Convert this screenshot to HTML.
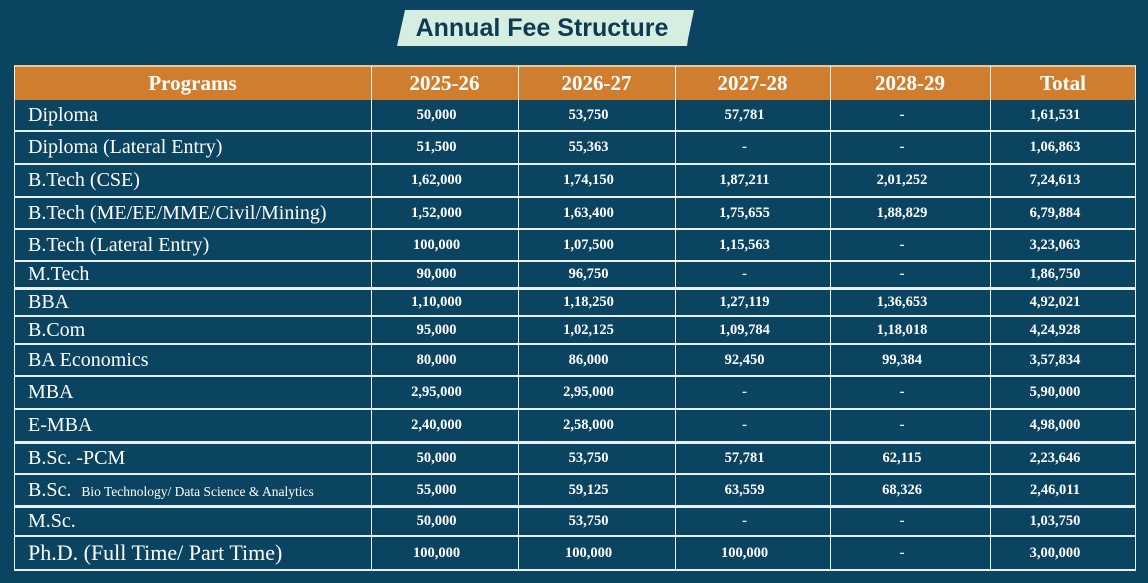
<!DOCTYPE html>
<html><head><meta charset="utf-8">
<style>
body{margin:0;width:1148px;height:583px;background:#0b4460;position:relative;overflow:hidden;font-family:"Liberation Serif",serif;}
#title-bg{position:absolute;left:397px;top:10px;width:297px;height:36px;background:#d6ede2;clip-path:polygon(8px 0,100% 0,98% 80%,290px 100%,0 100%);}
#title{position:absolute;left:397px;top:10px;width:290px;height:36px;line-height:36px;text-align:center;font-family:"Liberation Sans",sans-serif;font-weight:bold;font-size:25px;color:#0d3b50;}
#header{position:absolute;left:14px;top:65px;width:1122px;height:35px;background:#cf7e2f;border-top:2px solid #e8c79a;box-sizing:border-box;}
.cell{position:absolute;color:#fff;display:flex;align-items:center;justify-content:center;box-sizing:border-box;white-space:nowrap;}
.hl{position:absolute;left:14px;width:1122px;background:#e6f2f5;}
.vl{position:absolute;width:1px;background:#e6f2f5;top:66px;height:504px;}
</style></head><body>
<div id="title-bg"></div>
<div id="title">Annual Fee Structure</div>
<div id="header"></div>
<div id="tbl"></div>
<script>
const headers=["Programs","2025-26","2026-27","2027-28","2028-29","Total"];
const programs=["Diploma","Diploma (Lateral Entry)","B.Tech (CSE)","B.Tech (ME/EE/MME/Civil/Mining)","B.Tech (Lateral Entry)","M.Tech","BBA","B.Com","BA Economics","MBA","E-MBA","B.Sc. -PCM","B.Sc.","M.Sc.","Ph.D. (Full Time/ Part Time)"];
const fee2025=["50,000","51,500","1,62,000","1,52,000","100,000","90,000","1,10,000","95,000","80,000","2,95,000","2,40,000","50,000","55,000","50,000","100,000"];
const fee2026=["53,750","55,363","1,74,150","1,63,400","1,07,500","96,750","1,18,250","1,02,125","86,000","2,95,000","2,58,000","53,750","59,125","53,750","100,000"];
const fee2027=["57,781","-","1,87,211","1,75,655","1,15,563","-","1,27,119","1,09,784","92,450","-","-","57,781","63,559","-","100,000"];
const fee2028=["-","-","2,01,252","1,88,829","-","-","1,36,653","1,18,018","99,384","-","-","62,115","68,326","-","-"];
const totals=["1,61,531","1,06,863","7,24,613","6,79,884","3,23,063","1,86,750","4,92,021","4,24,928","3,57,834","5,90,000","4,98,000","2,23,646","2,46,011","1,03,750","3,00,000"];
const colX=[14,371,518,675,830,990,1136];
const rowY=[100,131,164,197,229,261,288,316,344,376,409,442,474,506,536,570];
const thick=[6,11,13];
const tbl=document.getElementById('tbl');
headers.forEach((h,i)=>{
  const d=document.createElement('div');d.className='cell';
  
  
  d.style.cssText=`left:${colX[i]}px;top:66px;width:${colX[i+1]-colX[i]}px;height:34px;font-weight:bold;font-size:21px;`;
  d.textContent=h;tbl.appendChild(d);
});
const cols=[fee2025,fee2026,fee2027,fee2028,totals];
programs.forEach((p,r)=>{
  const y=rowY[r],h=rowY[r+1]-y;
  const d=document.createElement('div');d.className='cell';
  
  
  const fs=(r===programs.length-1)?22:20;
  d.style.cssText=`left:${colX[0]+14}px;top:${y}px;width:350px;height:${h}px;justify-content:flex-start;font-size:${fs}px;`;
  if(p==="B.Sc."){d.innerHTML='B.Sc.&nbsp;&nbsp;<span style="font-size:13.5px;padding-top:3px">Bio Technology/ Data Science &amp; Analytics</span>';}
  else d.textContent=p;
  tbl.appendChild(d);
  cols.forEach((c,ci)=>{
    const e=document.createElement('div');e.className='cell';
    
    
    e.style.cssText=`left:${colX[ci+1]-8}px;top:${y}px;width:${colX[ci+2]-colX[ci+1]}px;height:${h}px;font-weight:bold;font-size:14.5px;`;
    e.textContent=c[r];tbl.appendChild(e);
  });
  const l=document.createElement('div');l.className='hl';
  
  
  const t=thick.includes(r+1)?3:1.5;
  l.style.cssText=`top:${rowY[r+1]-t/2}px;height:${t}px;`;
  tbl.appendChild(l);
});
colX.forEach((x,i)=>{
  const v=document.createElement('div');v.className='vl';
  
  
  v.style.left=(i===colX.length-1?x-1:x)+'px';
  tbl.appendChild(v);
});
</script>
</body></html>
